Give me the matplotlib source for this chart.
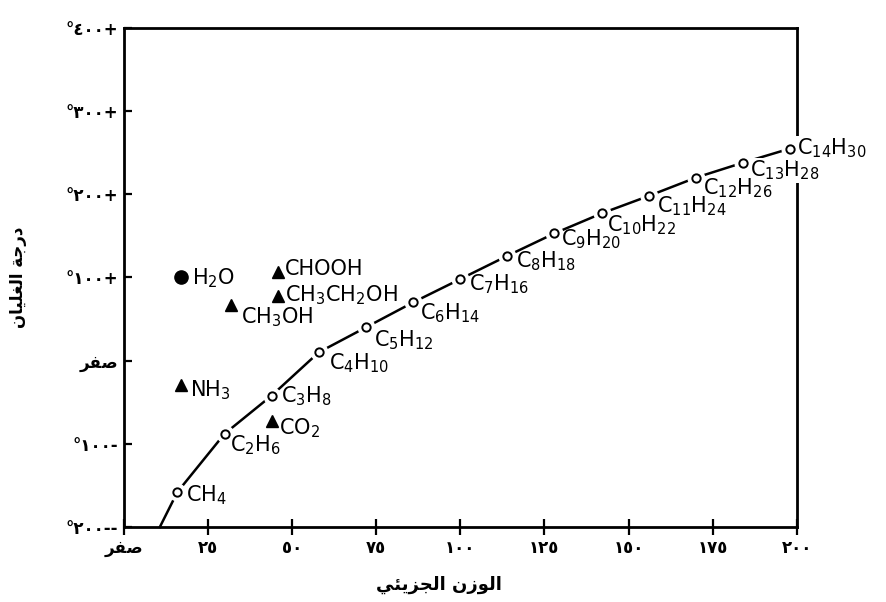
import matplotlib
matplotlib.use('Agg')
import matplotlib.pyplot as plt

plt.rcParams['font.family'] = ['DejaVu Sans']
plt.rcParams['mathtext.default'] = 'regular'

# ---------------- data ----------------
alkane_labels = ['CH$_4$', 'C$_2$H$_6$', 'C$_3$H$_8$', 'C$_4$H$_{10}$', 'C$_5$H$_{12}$',
                 'C$_6$H$_{14}$', 'C$_7$H$_{16}$', 'C$_8$H$_{18}$', 'C$_9$H$_{20}$',
                 'C$_{10}$H$_{22}$', 'C$_{11}$H$_{24}$', 'C$_{12}$H$_{26}$',
                 'C$_{13}$H$_{28}$', 'C$_{14}$H$_{30}$']
alkane_mw = [16, 30, 44, 58, 72, 86, 100, 114, 128, 142, 156, 170, 184, 198]
alkane_bp = [-158, -88, -42, 10, 40, 70, 98, 126, 153, 177, 198, 220, 238, 255]
curve_start_mw = 10.8
curve_start_bp = -200

water_label = 'H$_2$O'
water_mw = 17
water_bp = 100

polar_labels = ['CHOOH', 'CH$_3$CH$_2$OH', 'CH$_3$OH', 'NH$_3$', 'CO$_2$']
polar_mw = [46, 46, 32, 17, 44]
polar_bp = [106, 78, 67, -29, -72]

x_ticks = [0, 25, 50, 75, 100, 125, 150, 175, 200]
x_tick_labels = ['\uFEAE\uFED4\uFEBB', '٢٥', '٥٠', '٧٥', '١٠٠', '١٢٥', '١٥٠', '١٧٥', '٢٠٠']
y_ticks = [-200, -100, 0, 100, 200, 300, 400]
y_tick_labels = ['°٢٠٠--', '°١٠٠-', '\uFEAE\uFED4\uFEBB', '°١٠٠+', '°٢٠٠+', '°٣٠٠+', '°٤٠٠+']

# Arabic titles in visual (left-to-right) order with presentation forms
x_title = ('\uFEF2\uFE8C\uFEF3\uFEB0\uFEA0\uFEDF\uFE8D' + ' ' +
           '\uFEE5\uFEAF\uFEEE\uFEDF\uFE8D')          # الوزن الجزيئي
y_title = ('\uFEE5\uFE8E\uFEF4\uFEE0\uFED0\uFEDF\uFE8D' + ' ' +
           '\uFE94\uFE9F\uFEAD\uFEA9')                # درجة الغليان

# label offsets (points) - styling only
alkane_offsets = [(6, -6.5), (4, -13), (7, -5), (7, -12), (6, -14), (5, -12), (6, -8),
                  (6, -8.5), (5, -9), (4, -13), (6, -11.5), (5, -12), (5, -10), (5, -4.5)]
polar_offsets = [(5, -2), (5, -4), (7, -13), (6.5, -8.6), (5, -10)]
water_offset = (8, -5)

# ---------------- figure ----------------
fig = plt.figure(figsize=(8.86, 6.02), dpi=100)
ax = fig.add_axes([0.1394, 0.1246, 0.760, 0.829])

ax.set_xlim(0, 200)
ax.set_ylim(-200, 400)

# alkane curve
curve_x = [curve_start_mw] + alkane_mw
curve_y = [curve_start_bp] + alkane_bp
ax.plot(curve_x, curve_y, color='black', lw=1.8, zorder=2, clip_on=False)
# gaps around circles
ax.plot(alkane_mw, alkane_bp, ls='none', marker='o', ms=12, mfc='white', mec='white', zorder=3)
ax.plot(alkane_mw, alkane_bp, ls='none', marker='o', ms=6, mfc='white', mec='black', mew=1.4, zorder=4)

for lab, x, y, off in zip(alkane_labels, alkane_mw, alkane_bp, alkane_offsets):
    kw = {'zorder': 6}
    if x > 180:
        kw['bbox'] = dict(facecolor='white', edgecolor='none', pad=0.5)
        kw['zorder'] = 5
    ax.annotate(lab, (x, y), xytext=off, textcoords='offset points', ha='left', va='baseline',
                fontsize=15, color='black', annotation_clip=False, **kw)

# water
ax.plot([water_mw], [water_bp], ls='none', marker='o', ms=9.5, color='black', zorder=4)
ax.annotate(water_label, (water_mw, water_bp), xytext=water_offset, textcoords='offset points',
            ha='left', va='baseline', fontsize=15, color='black')

# other polar compounds
ax.plot(polar_mw, polar_bp, ls='none', marker='^', ms=8.5, color='black', zorder=4)
for lab, x, y, off in zip(polar_labels, polar_mw, polar_bp, polar_offsets):
    ax.annotate(lab, (x, y), xytext=off, textcoords='offset points', ha='left', va='baseline',
                fontsize=15, color='black')

# axes styling
for s in ax.spines.values():
    s.set_linewidth(2)
    s.set_color('black')
    s.set_zorder(4.5)

ax.set_xticks(x_ticks)
ax.set_xticklabels(x_tick_labels, fontsize=12, fontweight='bold')
ax.set_yticks(y_ticks)
ax.set_yticklabels(y_tick_labels, fontsize=12, fontweight='bold')
ax.tick_params(axis='x', direction='inout', length=11, width=1.6, pad=3)
ax.tick_params(axis='y', direction='in', length=6, width=1.6, pad=4)

fig.text(0.495, 0.028, x_title, ha='center', va='center', fontsize=13, fontweight='bold')
fig.text(0.02, 0.54, y_title, ha='center', va='center', rotation=90, fontsize=12, fontweight='bold')

fig.savefig('out.png', dpi=100, facecolor='white')
